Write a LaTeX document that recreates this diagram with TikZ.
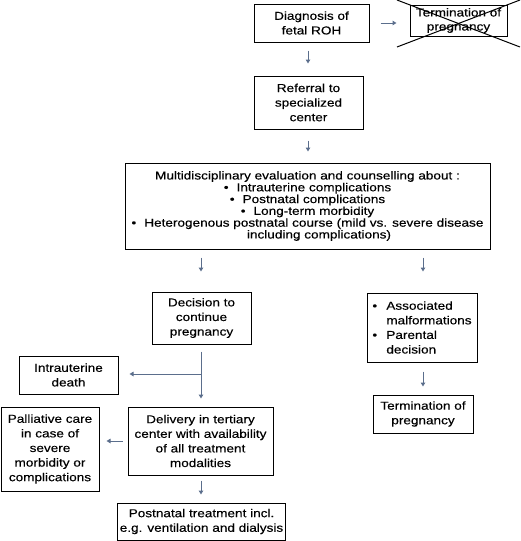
\documentclass[tikz,border=0pt]{standalone}
\usepackage{fontspec}
\setmainfont{Liberation Sans}[FakeStretch=1.18,FakeBold=0.3]
\usetikzlibrary{arrows.meta}
\definecolor{arr}{HTML}{5B6E8C}
\tikzset{
  box/.style={draw=black, line width=1pt, align=center, inner sep=2pt,
    font=\fontsize{11.5}{14.6}\selectfont, text=black},
  conn/.style={draw=arr, line width=1pt, -{Triangle[length=4pt,width=4.5pt]}},
  crossline/.style={draw=black, line width=1pt},
}
\begin{document}
\begin{tikzpicture}[x=1pt,y=-1pt]
\useasboundingbox (0,0) rectangle (521,541);
\node[box, minimum width=115pt, minimum height=38pt] (diag) at (311.5,23) {Diagnosis of\\fetal ROH};
\node[box, minimum width=97pt, minimum height=31pt, font=\fontsize{11.5}{14}\selectfont] (term1) at (458.5,20.5) {Termination of\\pregnancy};
\draw[crossline] (397,0) -- (520,47);
\draw[crossline] (520,0) -- (397,47);
\node[box, minimum width=109pt, minimum height=53pt] (ref) at (308.5,102.5) {Referral to\\specialized\\center};
\node[box, minimum width=365pt, minimum height=86pt, font=\fontsize{11.5}{11.8}\selectfont] (multi) at (307.5,206) {Multidisciplinary evaluation and counselling about :\\
\textbullet\hspace{0.7em}Intrauterine complications\\
\textbullet\hspace{0.7em}Postnatal complications\\
\textbullet\hspace{0.7em}Long-term morbidity\\
\textbullet\hspace{0.7em}Heterogenous postnatal course (mild vs. severe disease\\
\hspace*{2em}including complications)};
\node[box, minimum width=99pt, minimum height=52pt] (dec) at (201.5,318) {Decision to\\continue\\pregnancy};
\node[box, minimum width=110pt, minimum height=69pt, align=left] (assoc) at (422,327.5) {\textbullet\hspace{0.8em}Associated\\\phantom{\textbullet\hspace{0.8em}}malformations\\\textbullet\hspace{0.8em}Parental\\\phantom{\textbullet\hspace{0.8em}}decision};
\node[box, minimum width=100pt, minimum height=38pt] (term2) at (423,414) {Termination of\\pregnancy};
\node[box, minimum width=99pt, minimum height=38pt] (iud) at (68.5,375) {Intrauterine\\death};
\node[box, minimum width=145pt, minimum height=68pt] (deliv) at (200.5,441) {Delivery in tertiary\\center with availability\\of all treatment\\modalities};
\node[box, minimum width=98pt, minimum height=84pt] (pall) at (50,449) {Palliative care\\in case of\\severe\\morbidity or\\complications};
\node[box, minimum width=165pt, minimum height=37pt] (post) at (201.5,521.5) {Postnatal treatment incl.\\e.g. ventilation and dialysis};
\coordinate (br) at (201,374);
\draw[conn, shorten <=11pt, shorten >=13pt] (diag.east) -- (term1.west |- diag.east);
\draw[conn, shorten <=8pt, shorten >=12pt] (diag.south -| 308,0) -- (ref.north -| 308,0);
\draw[conn, shorten <=11pt, shorten >=11pt] (ref.south -| 308,0) -- (multi.north -| 308,0);
\draw[conn, shorten <=8pt, shorten >=20pt] (multi.south -| 201,0) -- (dec.north -| 201,0);
\draw[conn, shorten <=8pt, shorten >=21pt] (multi.south -| 423,0) -- (assoc.north -| 423,0);
\draw[conn, shorten <=7pt, shorten >=8pt] (dec.south -| 201,0) -- (deliv.north -| 201,0);
\draw[conn, shorten >=11pt] (br) -- (iud.east |- br);
\draw[conn, shorten <=5pt, shorten >=7pt] (deliv.west) -- (pall.east |- deliv.west);
\draw[conn, shorten <=5pt, shorten >=8pt] (deliv.south -| 201,0) -- (post.north -| 201,0);
\draw[conn, shorten <=9pt, shorten >=8pt] (assoc.south -| 423,0) -- (term2.north -| 423,0);
\end{tikzpicture}
\end{document}
